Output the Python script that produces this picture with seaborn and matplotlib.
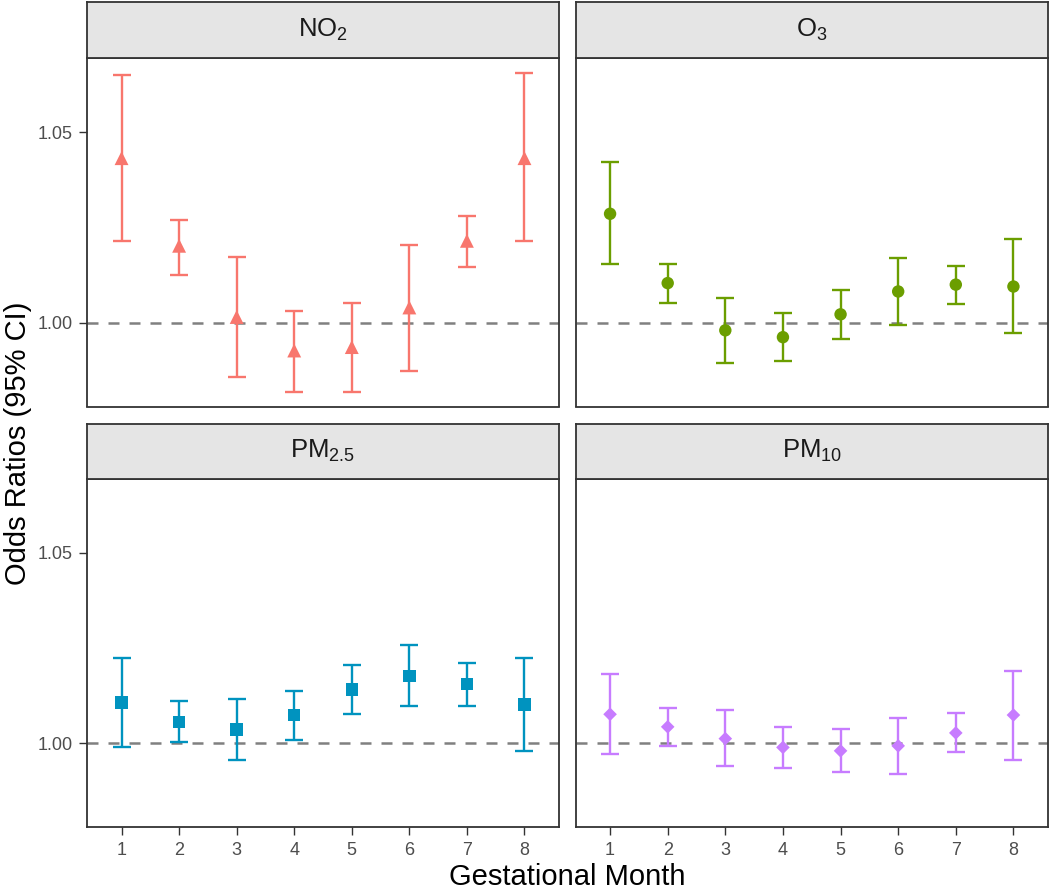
import numpy as np
import pandas as pd
import matplotlib
matplotlib.use('Agg')
import matplotlib.pyplot as plt
import seaborn as sns

# odds ratios and 95% CI, gestational months 1..8
months = [1, 2, 3, 4, 5, 6, 7, 8]

or_no2 = [1.0432, 1.0202, 1.0015, 0.9927, 0.9936, 1.0040, 1.0215, 1.0432]
lo_no2 = [1.0215, 1.0126, 0.9858, 0.9819, 0.9817, 0.9872, 1.0146, 1.0214]
hi_no2 = [1.0650, 1.0270, 1.0173, 1.0030, 1.0053, 1.0205, 1.0281, 1.0655]

or_o3 = [1.0286, 1.0104, 0.9980, 0.9962, 1.0022, 1.0082, 1.0100, 1.0095]
lo_o3 = [1.0153, 1.0053, 0.9895, 0.9899, 0.9958, 0.9994, 1.0049, 0.9973]
hi_o3 = [1.0421, 1.0153, 1.0065, 1.0025, 1.0085, 1.0170, 1.0150, 1.0219]

or_pm25 = [1.0107, 1.0056, 1.0036, 1.0074, 1.0141, 1.0177, 1.0155, 1.0102]
lo_pm25 = [0.9991, 1.0002, 0.9955, 1.0009, 1.0076, 1.0097, 1.0098, 0.9979]
hi_pm25 = [1.0224, 1.0112, 1.0117, 1.0138, 1.0205, 1.0257, 1.0211, 1.0224]

or_pm10 = [1.0076, 1.0043, 1.0012, 0.9989, 0.9980, 0.9993, 1.0027, 1.0074]
lo_pm10 = [0.9971, 0.9993, 0.9939, 0.9935, 0.9925, 0.9919, 0.9976, 0.9957]
hi_pm10 = [1.0182, 1.0092, 1.0086, 1.0043, 1.0036, 1.0067, 1.0078, 1.0189]

pollutants = ["NO2", "O3", "PM2.5", "PM10"]
strip_labels = ["NO$_2$", "O$_3$", "PM$_{2.5}$", "PM$_{10}$"]
colors = ["#F8766D", "#6B9E00", "#0093BF", "#C77CFF"]
markers = ["^", "o", "s", "D"]
marker_sizes = [100, 80, 80, 48]

frames = []
for name, o, lo, hi in zip(pollutants,
                           [or_no2, or_o3, or_pm25, or_pm10],
                           [lo_no2, lo_o3, lo_pm25, lo_pm10],
                           [hi_no2, hi_o3, hi_pm25, hi_pm10]):
    frames.append(pd.DataFrame({"pollutant": name, "month": months,
                                "or": o, "lo": lo, "hi": hi}))
df = pd.concat(frames, ignore_index=True)

sns.set_theme(style="white")
plt.rcParams['font.family'] = ['Liberation Sans', 'DejaVu Sans']
plt.rcParams['mathtext.default'] = 'regular'

W, H = 1050, 891
fig = plt.figure(figsize=(W / 100, H / 100), dpi=100)


def box(x0, y0, x1, y1):
    return [x0 / W, 1 - y1 / H, (x1 - x0) / W, (y1 - y0) / H]


cols = [(87, 559), (575.5, 1048)]
rows = [((2.5, 57.5), (58, 406.5)), ((423.5, 478.5), (478.5, 827))]
edge = "#333333"

for i, name in enumerate(pollutants):
    r, c = divmod(i, 2)
    (sy0, sy1), (py0, py1) = rows[r]
    x0, x1 = cols[c]

    ax = fig.add_axes(box(x0, py0, x1, py1))
    sub = df[df["pollutant"] == name]
    ax.axhline(1.0, color="#808080", lw=1.8, dashes=(4.4, 4.0), zorder=1)
    ax.errorbar(sub["month"], sub["or"],
                yerr=[sub["or"] - sub["lo"], sub["hi"] - sub["or"]],
                fmt="none", ecolor=colors[i], elinewidth=1.7,
                capsize=6.3, capthick=1.7, zorder=2)
    sns.scatterplot(data=sub, x="month", y="or", ax=ax, marker=markers[i],
                    color=colors[i], s=marker_sizes[i], edgecolor="none",
                    linewidth=0, zorder=3, legend=False)

    ax.set_xlim(0.4, 8.6)
    ax.set_ylim(0.978, 1.0695)
    ax.set_xticks(months)
    ax.set_yticks([1.00, 1.05])
    ax.set_yticklabels(["1.00", "1.05"])
    ax.set_xlabel("")
    ax.set_ylabel("")
    for sp in ax.spines.values():
        sp.set_color(edge)
        sp.set_linewidth(1.3)
    ax.tick_params(axis="both", colors=edge, labelcolor="#4D4D4D",
                   labelsize=13, length=6, width=1.0, pad=5)
    ax.tick_params(axis="y", left=(c == 0), labelleft=(c == 0), pad=4)
    ax.tick_params(axis="x", bottom=(r == 1), labelbottom=(r == 1))

    sax = fig.add_axes(box(x0, sy0, x1, sy1))
    sax.set_facecolor("#E5E5E5")
    sax.set_xticks([])
    sax.set_yticks([])
    for sp in sax.spines.values():
        sp.set_color(edge)
        sp.set_linewidth(1.3)
    sax.text(0.5, 0.5, strip_labels[i], ha="center", va="center",
             fontsize=18.5, color="#1A1A1A", transform=sax.transAxes)

fig.text(567 / W, 1 - 877 / H, "Gestational Month", ha="center", va="center",
         fontsize=21, color="black")
fig.text(18 / W, 1 - 443 / H, "Odds Ratios (95% CI)", ha="center", va="center",
         rotation=90, fontsize=21, color="black")

fig.savefig("out.png", dpi=100)
